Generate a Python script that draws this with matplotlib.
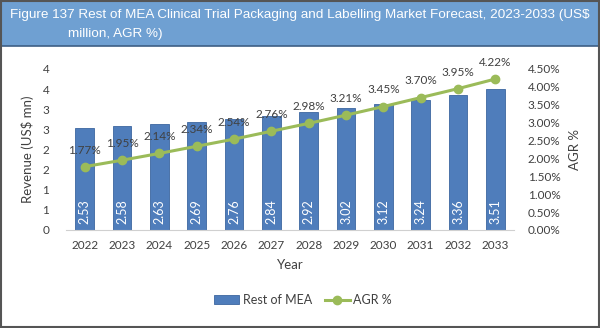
import matplotlib
matplotlib.use('Agg')
import matplotlib.pyplot as plt
from matplotlib.patches import Rectangle
from matplotlib.ticker import FixedLocator, FuncFormatter

years = ['2022', '2023', '2024', '2025', '2026', '2027', '2028', '2029',
         '2030', '2031', '2032', '2033']
revenue = [2.53, 2.58, 2.63, 2.69, 2.76, 2.84, 2.92, 3.02, 3.12, 3.24, 3.36, 3.51]
agr = [1.77, 1.95, 2.14, 2.34, 2.54, 2.76, 2.98, 3.21, 3.45, 3.70, 3.95, 4.22]

title_line1 = 'Figure 137 Rest of MEA Clinical Trial Packaging and Labelling Market Forecast, 2023-2033 (US$'
title_line2 = 'million, AGR %)'

bar_color = '#4f7dbb'
line_color = '#9bbb59'
text_color = '#404040'

plt.rcParams['font.family'] = ['Lato', 'DejaVu Sans']

fig = plt.figure(figsize=(6.0, 3.28), dpi=100)

# title band and outer border
fig.patches.append(Rectangle((0, 0.86), 1, 0.14, transform=fig.transFigure,
                             facecolor='#6fa0d2', edgecolor='#3d5f85', lw=1.2, zorder=0))
fig.patches.append(Rectangle((0.002, 0.004), 0.996, 0.994, transform=fig.transFigure,
                             facecolor='none', edgecolor='#555555', lw=1.5, zorder=5))
fig.text(0.5, 0.955, title_line1, ha='center', va='center', color='white',
         fontsize=9.7, family=['Liberation Sans'])
fig.text(0.113, 0.897, title_line2, ha='left', va='center', color='white',
         fontsize=9.7, family=['Liberation Sans'])

ax = fig.add_axes([0.11, 0.2988, 0.7467, 0.4909])
x = list(range(len(years)))
bars = ax.bar(x, revenue, width=0.5, color=bar_color, edgecolor='#3c66a0',
              linewidth=0.6, label='Rest of MEA', zorder=2)
ax.set_xlim(-0.5, len(years) - 0.5)
ax.set_ylim(0, 4)
ax.yaxis.set_major_locator(FixedLocator([i * 0.5 for i in range(9)]))
ax.yaxis.set_major_formatter(FuncFormatter(lambda v, p: '%d' % int(v + 0.5)))
ax.set_xticks(x)
ax.set_xticklabels(years)
for v, xi in zip(revenue, x):
    ax.annotate('%.2f' % v, (xi, 0), xytext=(0, 4), textcoords='offset points',
                ha='center', va='bottom', rotation=90, color='white', fontsize=9,
                zorder=4)

for side in ['top', 'right', 'left']:
    ax.spines[side].set_visible(False)
ax.spines['bottom'].set_color('#d0d0d0')
ax.tick_params(axis='both', length=0, colors=text_color, labelsize=8.5)
ax.tick_params(axis='y', pad=12)
ax.tick_params(axis='x', pad=7)
ax.set_ylabel('Revenue (US$ mn)', color=text_color, fontsize=9.5, labelpad=6)
ax.set_xlabel('Year', color=text_color, fontsize=9.5, labelpad=6)

ax2 = ax.twinx()
line, = ax2.plot(x, agr, color=line_color, lw=2.2, marker='o', markersize=6,
                 label='AGR %', zorder=3)
ax2.set_ylim(0, 4.5)
ax2.yaxis.set_major_locator(FixedLocator([i * 0.5 for i in range(10)]))
ax2.yaxis.set_major_formatter(FuncFormatter(lambda v, p: '%.2f%%' % v))
for side in ['top', 'right', 'left', 'bottom']:
    ax2.spines[side].set_visible(False)
ax2.tick_params(axis='y', length=0, colors=text_color, labelsize=8.5, pad=10)
ax2.set_ylabel('AGR %', color=text_color, fontsize=9.5, labelpad=6)
for v, xi in zip(agr, x):
    ax2.annotate('%.2f%%' % v, (xi, v), xytext=(0, 8), textcoords='offset points',
                 ha='center', va='bottom', color=text_color, fontsize=8.5)

fig.legend(handles=[bars, line], labels=['Rest of MEA', 'AGR %'],
           loc='center', bbox_to_anchor=(0.505, 0.085), ncol=2, frameon=False,
           fontsize=9, handlelength=2.0, handletextpad=0.3, columnspacing=1.0,
           labelcolor=text_color)

plt.savefig('out.png', dpi=100)
plt.close()
